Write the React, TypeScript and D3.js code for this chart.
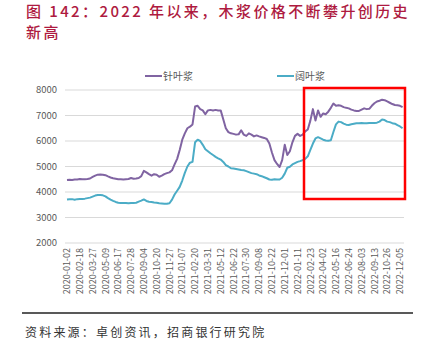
import React from "react";
import * as d3 from "d3";

const titleLines = ["图 142：2022 年以来，木浆价格不断攀升创历史", "新高"];
const sourceText = "资料来源：卓创资讯，招商银行研究院";
const seriesNames = ["针叶浆", "阔叶浆"];
const seriesColors = ["#8064A2", "#4BACC6"];
const yTicks = [2000, 3000, 4000, 5000, 6000, 7000, 8000];
const xLabels = [
  "2020-01-02", "2020-02-18", "2020-03-27", "2020-05-09", "2020-06-17", "2020-07-28", "2020-09-04", "2020-10-20", "2020-11-27",
  "2021-01-07", "2021-02-20", "2021-03-31", "2021-05-12", "2021-06-22", "2021-07-30", "2021-09-08", "2021-10-22", "2021-12-01",
  "2022-01-11", "2022-02-23", "2022-04-02", "2022-05-16", "2022-06-24", "2022-08-03", "2022-09-13", "2022-10-26", "2022-12-05",
];
const pointsPerLabel = 5;

const softwood = [
  4470, 4480, 4470, 4490, 4490, 4510, 4500, 4500, 4510, 4530,
  4590, 4640, 4680, 4690, 4680, 4660, 4610, 4570, 4540, 4520,
  4500, 4500, 4490, 4500, 4510, 4550, 4520, 4530, 4550, 4620,
  4830, 4770, 4700, 4640, 4700, 4680, 4600, 4640, 4700, 4740,
  4770, 4850, 5080, 5300, 5650, 6050, 6300, 6500, 6560, 6650,
  7350, 7380, 7250, 7200, 7050, 7200, 7220, 7200, 7220, 7200,
  7200, 6850, 6500, 6350, 6300, 6280, 6250, 6260, 6420, 6250,
  6200, 6300, 6250, 6180, 6220, 6180, 6150, 6120, 6080, 5900,
  5550, 5250, 5100, 4980, 5250, 5850, 5450, 5600, 5950, 6200,
  6280, 6200, 6250, 6380, 6450, 6800, 7250, 6800, 7200, 6950,
  7080, 7050, 7150, 7300, 7470, 7380, 7400, 7380, 7330, 7300,
  7280, 7230, 7200, 7180, 7180, 7230, 7280, 7250, 7260, 7380,
  7480, 7550, 7580, 7620, 7600, 7550, 7500, 7450, 7410, 7400,
  7380, 7330,
];
const hardwood = [
  3710, 3720, 3720, 3700, 3720, 3730, 3730, 3740, 3760, 3780,
  3820, 3860, 3880, 3880, 3870, 3830, 3760, 3700, 3650, 3610,
  3580, 3570, 3570, 3570, 3560, 3570, 3570, 3580, 3620, 3660,
  3710, 3650, 3620, 3610, 3590, 3580, 3560, 3550, 3540, 3540,
  3560, 3700, 3900, 4050, 4200, 4450, 4750, 5000, 5150, 5180,
  5950, 6050, 6000, 5850, 5680, 5600, 5520, 5450, 5380, 5320,
  5270, 5180, 5050, 5000, 4930, 4920, 4900, 4880, 4860, 4850,
  4820, 4780, 4740, 4720, 4700, 4650, 4620, 4580, 4540, 4490,
  4480, 4500, 4490, 4490, 4560, 4720, 4950, 4990, 5080, 5130,
  5180, 5210, 5250, 5300, 5400, 5650, 5900, 6100, 6150, 6100,
  6050, 6020, 6010, 6030, 6350, 6650, 6760, 6740, 6680, 6640,
  6630, 6660, 6680, 6700, 6700, 6710, 6700, 6700, 6710, 6710,
  6710, 6720, 6760, 6840, 6820, 6760, 6740, 6700, 6680, 6620,
  6570, 6500,
];

const W = 427;
const H = 355;
const plotLeft = 65;
const plotRight = 404;
const font = "'Noto Sans CJK SC', 'Noto Sans', sans-serif";

export default function App() {
  const n = softwood.length;
  const lastLabelIdx = (xLabels.length - 1) * pointsPerLabel;
  const x = d3.scaleLinear().domain([0, lastLabelIdx]).range([67, 400]);
  const y = d3.scaleLinear().domain([2000, 8000]).range([243, 90]);
  const line = d3
    .line<number>()
    .x((_, i) => x(i))
    .y((d) => y(d))
    .curve(d3.curveLinear);
  const series = [softwood, hardwood];

  return (
    <svg
      width={W}
      height={H}
      style={{ position: "absolute", left: 0, top: 0, background: "#fff" }}
      fontFamily={font}
    >
      {/* Title */}
      <text x={26} y={17} fontSize={15} fill="#AE1A40" letterSpacing={2.4} fontWeight={500}>
        {titleLines[0]}
      </text>
      <text x={26} y={38} fontSize={15} fill="#AE1A40" letterSpacing={2.4} fontWeight={500}>
        {titleLines[1]}
      </text>

      {/* Legend */}
      {seriesNames.map((name, k) => {
        const lx = k === 0 ? 145 : 277;
        return (
          <g key={name}>
            <line x1={lx} x2={lx + 17} y1={76} y2={76} stroke={seriesColors[k]} strokeWidth={2} />
            <text x={lx + 18} y={79.5} fontSize={10} fill="#595959">
              {name}
            </text>
          </g>
        );
      })}

      {/* Gridlines + y labels */}
      {yTicks.map((t) => (
        <g key={t}>
          <line x1={plotLeft} x2={plotRight} y1={y(t)} y2={y(t)} stroke="#D9D9D9" strokeWidth={1} />
          <text x={57} y={y(t)} dy="0.35em" textAnchor="end" fontSize={9.5} fill="#595959">
            {t}
          </text>
        </g>
      ))}

      {/* X labels */}
      {xLabels.map((lab, k) => {
        const xi = x(k * pointsPerLabel);
        return (
          <text
            key={lab}
            transform={`translate(${xi},248) rotate(-90)`}
            textAnchor="end"
            dy="0.35em"
            fontSize={9}
            fill="#595959"
          >
            {lab}
          </text>
        );
      })}

      {/* Lines */}
      {series.map((s, k) => (
        <path
          key={k}
          d={line(s) || ""}
          fill="none"
          stroke={seriesColors[k]}
          strokeWidth={2}
          strokeLinejoin="round"
        />
      ))}

      {/* Highlight box */}
      <rect x={304} y={88} width={101} height={111} fill="none" stroke="#FF0000" strokeWidth={2.5} />

      {/* Bottom rule + source */}
      <line x1={22} x2={413} y1={313} y2={313} stroke="#595959" strokeWidth={2} />
      <text x={25} y={337} fontSize={12} fill="#333" letterSpacing={2.2}>
        {sourceText}
      </text>
    </svg>
  );
}
